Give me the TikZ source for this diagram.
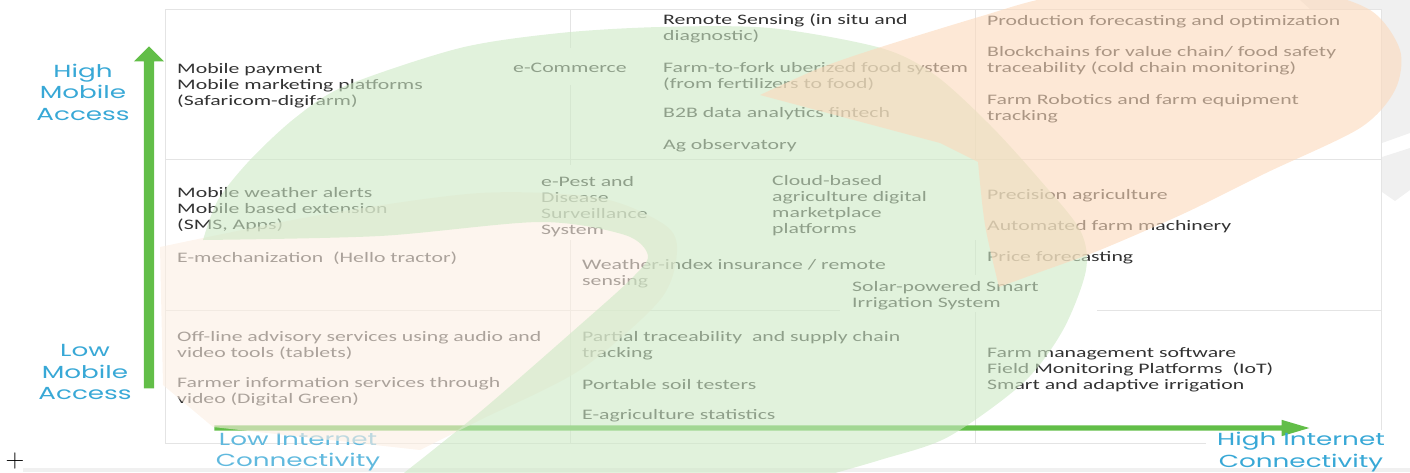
\documentclass[tikz,border=0pt]{standalone}
\usepackage{fontspec}
\newfontfamily\cellfont{Carlito}[FakeStretch=1.5]
\newfontfamily\axisfont{Poppins}[FakeStretch=1.5]
\usetikzlibrary{shapes.arrows, positioning}

\definecolor{txtgray}{RGB}{50,50,50}
\definecolor{gridgray}{RGB}{228,228,228}
\definecolor{axisblue}{RGB}{56,168,214}
\definecolor{axisgreen}{RGB}{98,190,72}
\definecolor{leafgreen}{RGB}{205,233,197}
\definecolor{petalorange}{RGB}{252,217,187}
\definecolor{peach}{RGB}{252,238,226}
\definecolor{wmgray}{RGB}{240,240,240}

\begin{document}
\begin{tikzpicture}[x=1pt, y=-1pt,
  cell/.style={anchor=west, align=left, inner sep=0pt, text=txtgray, yshift=-2pt,
    font=\cellfont\fontsize{14.5}{16}\selectfont},
  axislabel/.style={align=center, inner sep=0pt, text=axisblue,
    font=\axisfont\fontsize{17.5}{21.5}\selectfont},
  gridline/.style={draw=gridgray, line width=1pt},
  wash/.style={fill opacity=0.6}]
  \useasboundingbox (0,0) rectangle (1410,472);

  % watermark petals behind the table
  \fill[wmgray] (1300,0) -- (1410,0) -- (1410,133) -- (1382,143) -- (1382,9) -- (1310,9) -- cycle;
  \fill[wmgray] (1382,157) -- (1410,148) -- (1410,190) -- (1395,201) -- (1382,192) -- cycle;
  \fill[wmgray] (23,468) rectangle (1410,472);

  % table
  \draw[gridline] (165,9) -- (1381,9) -- (1381,430);
  \draw[gridline] (165,9) -- (165,443) -- (1206,443);
  \draw[gridline] (165,159) -- (1381,159);
  \draw[gridline] (165,310) -- (840,310) (1097,310) -- (1381,310);
  \draw[gridline] (570,9) -- (570,48) (570,85) -- (570,165) (570,240) -- (570,443);
  \draw[gridline] (975,9) -- (975,160) (975,240) -- (975,275) (975,312) -- (975,443);

  % axes
  \node[single arrow, fill=axisgreen, shape border rotate=90, minimum height=342pt,
    minimum width=30pt, single arrow head extend=10pt, single arrow tip angle=90,
    inner sep=5pt, anchor=tip] (mobileaxis) at (149,46) {};
  \node[single arrow, fill=axisgreen, minimum height=1095pt,
    minimum width=16pt, single arrow head extend=5.5pt, single arrow tip angle=33,
    inner sep=2.5pt, anchor=tip] (netaxis) at (1310,428) {};

  \node[axislabel] (highmob) at (83,92) {High\\Mobile\\Access};
  \node[axislabel] (lowmob) at (85,372) {Low\\Mobile\\Access};
  \node[axislabel, text=axisblue!80] (lownet) at (298,452) {Low Internet\\Connectivity};
  \node[axislabel] (highnet) at (1301,452) {High Internet\\Connectivity};

  % high mobile row
  \node[cell] (pay) at (177,84) {Mobile payment\\Mobile marketing platforms\\(Safaricom-digifarm)};
  \node[cell] (ecom) at (513,66) {e-Commerce};
  \node[cell] (remote) at (663,26) {Remote Sensing (in situ and\\diagnostic)};
  \node[cell] (fork) at (663,74) {Farm-to-fork uberized food system\\(from fertilizers to food)};
  \node[cell] (btob) at (663,112) {B2B data analytics fintech};
  \node[cell] (agobs) at (663,144) {Ag observatory};
  \node[cell] (prod) at (987,20) {Production forecasting and optimization};
  \node[cell] (chain) at (987,59) {Blockchains for value chain/ food safety\\traceability (cold chain monitoring)};
  \node[cell] (robot) at (987,106.5) {Farm Robotics and farm equipment\\tracking};

  % middle row
  \node[cell] (weather) at (177,208) {Mobile weather alerts\\Mobile based extension\\(SMS, Apps)};
  \node[cell] (mech) at (177,256) {E-mechanization\ \ (Hello tractor)};
  \node[cell] (pest) at (541,205) {e-Pest and\\Disease\\Surveillance\\System};
  \node[cell] (cloud) at (772,203.5) {Cloud-based\\agriculture digital\\marketplace\\platforms};
  \node[cell] (index) at (582,272) {Weather-index insurance / remote\\sensing};
  \node[cell] (solar) at (852,294) {Solar-powered Smart\\Irrigation System};
  \node[cell] (precision) at (987,194) {Precision agriculture};
  \node[cell] (machinery) at (987,225) {Automated farm machinery};
  \node[cell] (price) at (987,256) {Price forecasting};

  % low mobile row
  \node[cell] (offline) at (177,343) {Off-line advisory services using audio and\\video tools (tablets)};
  \node[cell] (farmerinfo) at (177,390) {Farmer information services through\\video (Digital Green)};
  \node[cell] (partial) at (582,344) {Partial traceability\ \ and supply chain\\tracking};
  \node[cell] (soil) at (582,383) {Portable soil testers};
  \node[cell] (stats) at (582,414) {E-agriculture statistics};
  \node[cell] (fms) at (987,368) {Farm management software\\Field Monitoring Platforms\ \ (IoT)\\Smart and adaptive irrigation};

  \node[inner sep=0pt, font=\fontsize{26}{26}\selectfont] (cursor) at (15,461) {+};

  % washes on top
  \fill[wash, peach] plot[smooth] coordinates {(160,247) (320,215) (480,193) (600,198) (665,225) (677,252) (660,300) (580,370) (480,420) (420,450)}
    -- (213,427) -- (163,385) -- cycle;
  \fill[wash, leafgreen] plot[smooth] coordinates {(203,240) (218,200) (250,160) (295,118) (345,86) (460,48) (560,33) (660,27) (770,28) (881,48) (935,75) (990,125) (1040,180) (1080,230) (1086,270) (1063,330) (1023,383) (948,437) (880,460) (810,480)}
    -- (395,480) -- plot[smooth] coordinates {(395,480) (480,412) (580,325) (630,280) (648,256) (625,235) (540,222) (380,236) (203,240)} -- cycle;
  \fill[wash, petalorange] plot[smooth] coordinates {(760,95) (820,68) (881,47) (982,16) (1047,-2) (1150,-15) (1300,-10) (1370,10) (1400,50) (1395,90) (1360,128) (1266,173) (1185,213) (1100,250) (1040,272) (999,287)}
    -- plot[smooth] coordinates {(999,287) (985,225) (978,162)} -- (940,143) -- cycle;
\end{tikzpicture}
\end{document}
